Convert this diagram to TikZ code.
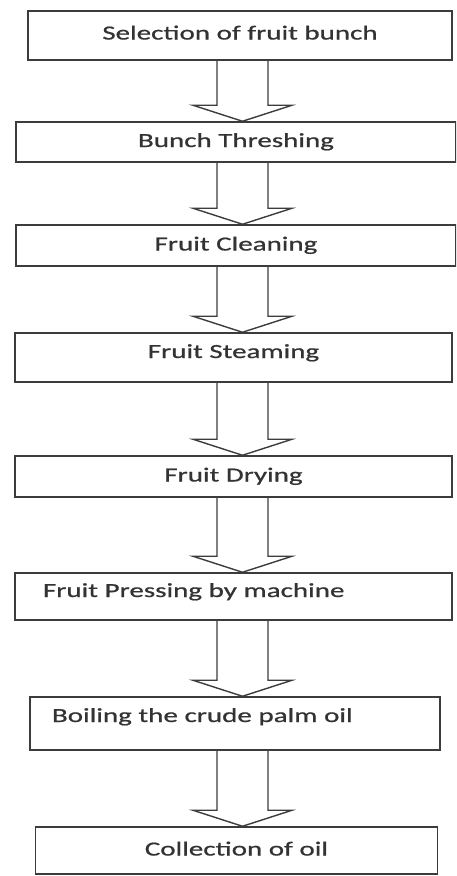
\documentclass[tikz,border=0pt]{standalone}
\usepackage{fontspec}
\setmainfont[FakeStretch=1.45,FakeBold=0.8]{Carlito}
\usepackage{tikz}
\usetikzlibrary{calc}
\definecolor{edge}{HTML}{3C3C3C}
\tikzstyle{block}=[draw=edge,line width=1.5pt,rectangle,inner sep=0pt,text=black!80,text height=14pt,text depth=4pt]
\tikzstyle{every node}=[font=\fontsize{20}{24}\selectfont]
\tikzstyle{flow}=[draw=edge,line width=1.4pt,line join=miter]
\newcommand{\flowarrow}[2]{%
  \draw[flow] let \p1=(#1.south), \p2=(#2.north) in
    (217pt,\y1) -- (217pt,\y2+16pt) -- (193pt,\y2+16pt) -- (242.5pt,\y2)
    -- (292pt,\y2+16pt) -- (268pt,\y2+16pt) -- (268pt,\y1);}

\begin{document}
\begin{tikzpicture}[x=1pt,y=-1pt]
  \clip (0,0) rectangle (456,876);
  \node[block, minimum width=424pt, minimum height=49pt, text depth=6pt] (select) at (240,35.5) {Selection of fruit bunch};
  \node[block, minimum width=440pt, minimum height=40pt] (thresh) at (236,142) {Bunch Threshing};
  \node[block, minimum width=440pt, minimum height=41pt] (clean) at (236,245.5) {Fruit Cleaning};
  \node[block, minimum width=437pt, minimum height=49pt, text depth=13pt] (steam) at (233.5,357.5) {Fruit Steaming};
  \node[block, minimum width=437pt, minimum height=41pt] (dry) at (233.5,476.5) {Fruit Drying};
  \node[block, inner xsep=28pt, text width=381pt, align=left, minimum height=47pt, text depth=13pt] (press) at (233.5,596.5) {Fruit Pressing by machine};
  \node[block, inner xsep=22pt, text width=366pt, align=left, minimum height=53pt, text depth=17pt] (boil) at (235,723.5) {Boiling the crude palm oil};
  \node[block, minimum width=402pt, minimum height=47pt] (collect) at (236.5,850.5) {Collection of oil};
  \flowarrow{select}{thresh}
  \flowarrow{thresh}{clean}
  \flowarrow{clean}{steam}
  \flowarrow{steam}{dry}
  \flowarrow{dry}{press}
  \flowarrow{press}{boil}
  \flowarrow{boil}{collect}
\end{tikzpicture}
\end{document}
